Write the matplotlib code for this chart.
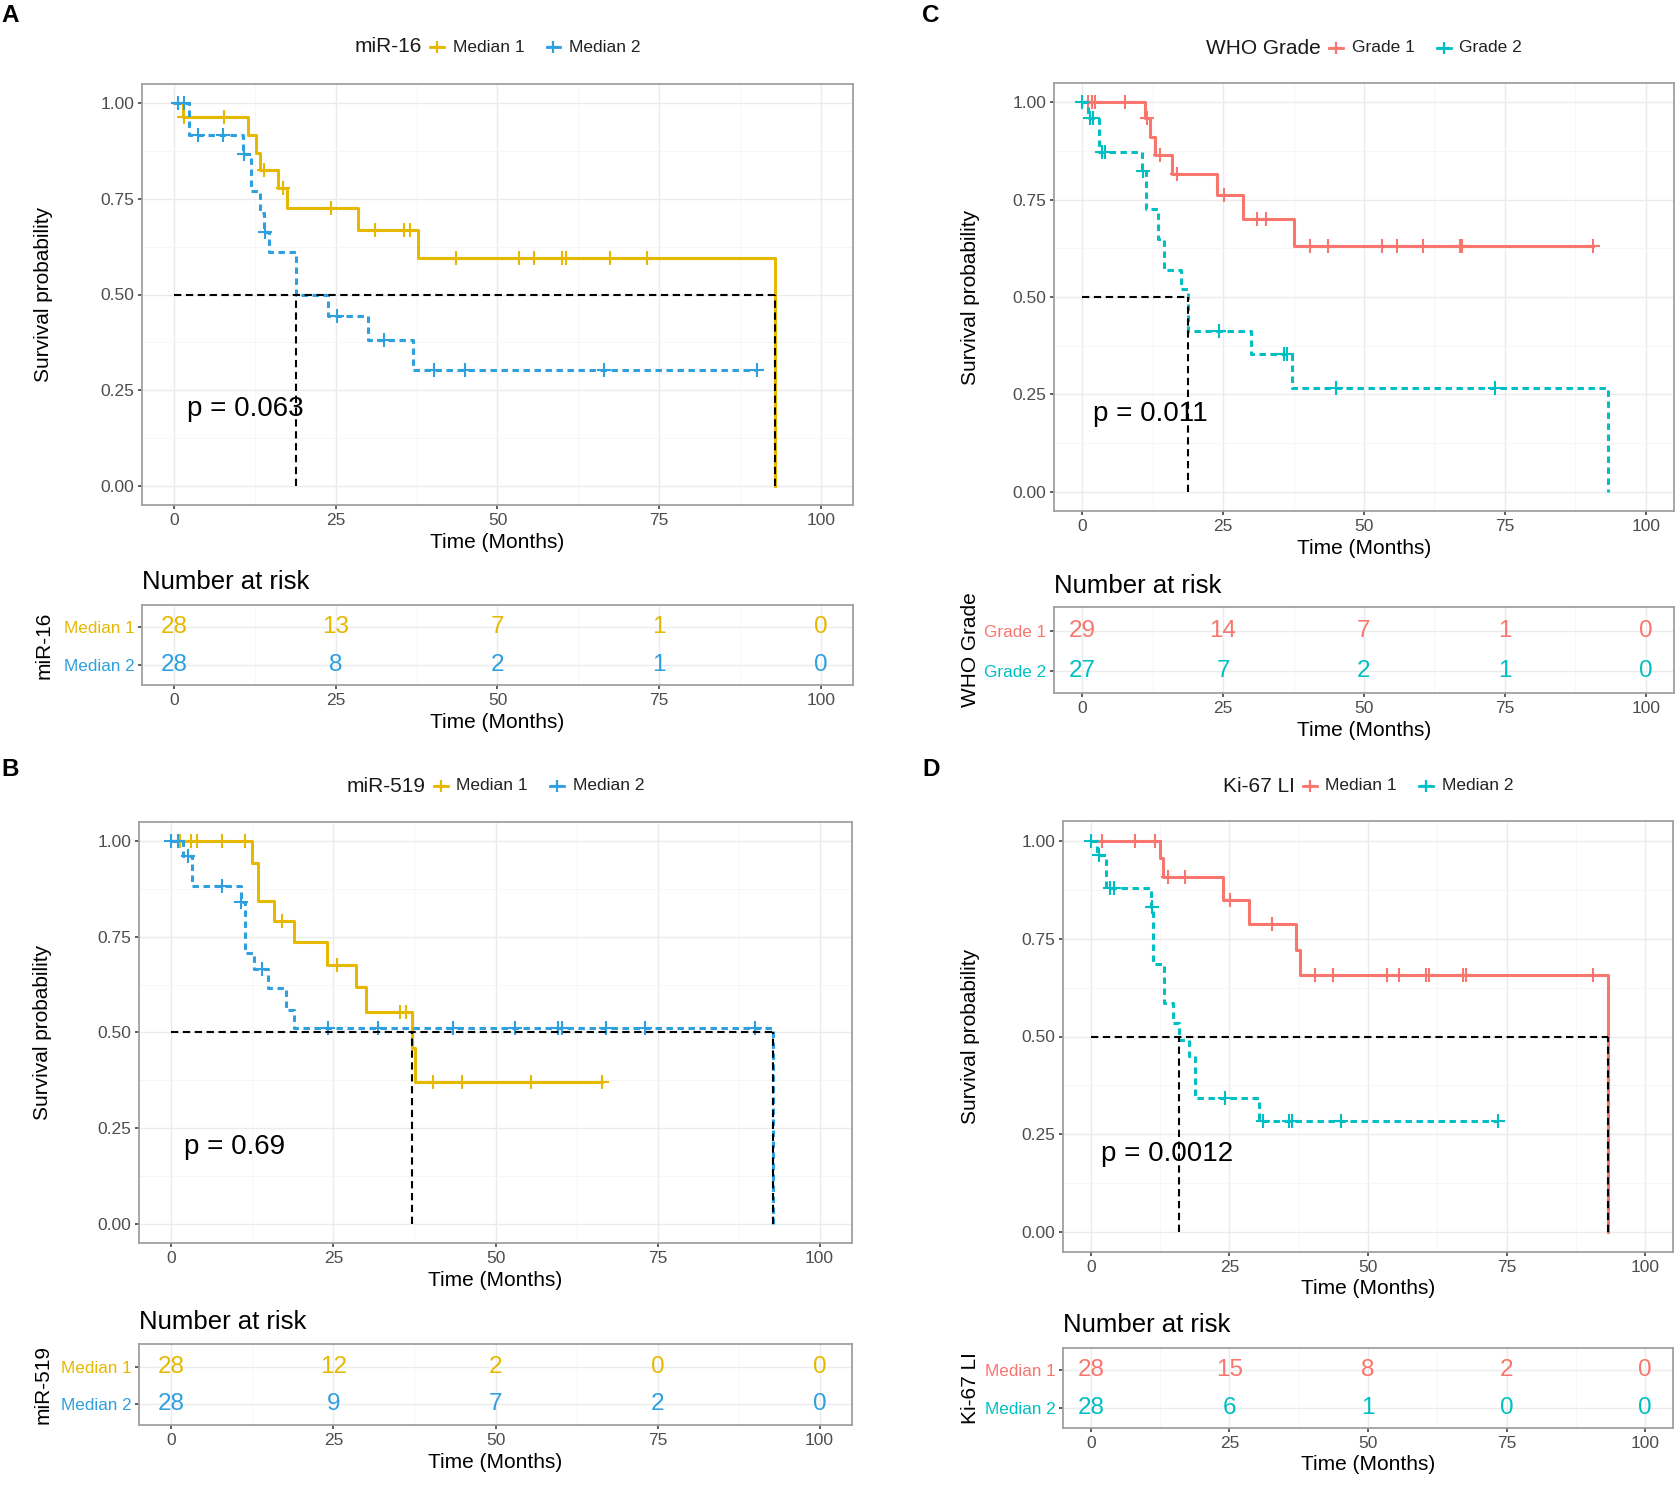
import numpy as np
import matplotlib
matplotlib.use('Agg')
import matplotlib.pyplot as plt
from matplotlib.lines import Line2D
from matplotlib.offsetbox import AnchoredOffsetbox, HPacker, TextArea, DrawingArea

plt.rcParams['font.family'] = ['Liberation Sans', 'DejaVu Sans']

YEL, BLU = '#E7B800', '#2E9FDF'
RED, TEAL = '#F8766D', '#00BFC4'

# ---- data (months, survival after each event, censor times)
# A: miR-16
mir16_m1_t = [1.3, 11.4, 12.7, 13.2, 16.1, 17.4, 28.4, 37.7, 92.9]
mir16_m1_s = [0.964, 0.916, 0.870, 0.826, 0.778, 0.727, 0.669, 0.595, 0.0]
mir16_m1_c = [1.5, 7.7, 13.8, 16.8, 24.3, 31.1, 35.6, 36.5, 43.6, 53.3, 55.7, 60.0, 60.6, 67.4, 73.1]
mir16_m2_t = [2.3, 10.7, 11.9, 13.2, 13.8, 14.6, 18.9, 23.7, 29.9, 37.0]
mir16_m2_s = [0.916, 0.868, 0.770, 0.714, 0.663, 0.612, 0.500, 0.443, 0.380, 0.304]
mir16_m2_c = [0.5, 1.5, 3.7, 7.5, 10.8, 14.0, 25.2, 32.4, 40.2, 45.0, 66.4, 90.1]
mir16_risk_m1 = [28, 13, 7, 1, 0]
mir16_risk_m2 = [28, 8, 2, 1, 0]

# B: miR-519
mir519_m1_t = [12.4, 13.4, 15.8, 18.9, 24.0, 28.5, 30.0, 37.1, 37.6]
mir519_m1_s = [0.944, 0.843, 0.791, 0.736, 0.677, 0.618, 0.553, 0.460, 0.371]
mir519_m1_c = [1.4, 3.0, 4.0, 7.8, 11.4, 17.0, 25.5, 35.2, 36.2, 40.3, 44.9, 55.5, 66.5]
mir519_m2_t = [1.8, 3.1, 10.7, 11.3, 12.7, 14.9, 17.7, 18.9, 92.8]
mir519_m2_s = [0.962, 0.884, 0.841, 0.709, 0.665, 0.615, 0.560, 0.512, 0.0]
mir519_m2_c = [0.0, 1.0, 2.5, 7.8, 10.8, 13.9, 24.1, 31.8, 43.5, 53.0, 59.7, 60.2, 67.1, 73.1, 90.1]
mir519_risk_m1 = [28, 12, 2, 0, 0]
mir519_risk_m2 = [28, 9, 7, 2, 0]

# C: WHO grade
who_g1_t = [11.2, 12.1, 12.9, 15.9, 24.0, 28.5, 37.5]
who_g1_s = [0.959, 0.911, 0.866, 0.815, 0.761, 0.701, 0.632]
who_g1_c = [1.0, 1.7, 2.3, 7.6, 11.5, 13.8, 16.8, 25.2, 31.0, 32.6, 40.5, 43.6, 53.2, 55.8, 60.4, 67.0, 67.3, 90.7]
who_g2_t = [1.0, 2.9, 10.7, 11.3, 13.4, 14.6, 17.6, 18.7, 30.0, 37.3, 93.3]
who_g2_s = [0.961, 0.873, 0.825, 0.725, 0.650, 0.569, 0.520, 0.412, 0.353, 0.265, 0.0]
who_g2_c = [0.0, 1.3, 2.0, 3.5, 4.1, 10.8, 24.3, 35.8, 36.4, 45.0, 73.2]
who_risk_g1 = [29, 14, 7, 1, 0]
who_risk_g2 = [27, 7, 2, 1, 0]

# D: Ki-67 LI
ki67_m1_t = [12.5, 13.0, 23.9, 28.6, 37.1, 37.8, 93.3]
ki67_m1_s = [0.956, 0.906, 0.848, 0.788, 0.720, 0.656, 0.0]
ki67_m1_c = [2.1, 8.0, 11.6, 13.9, 17.0, 25.1, 32.7, 40.4, 43.7, 53.5, 55.6, 60.5, 61.0, 67.1, 67.7, 90.6]
ki67_m2_t = [1.1, 2.7, 10.8, 11.3, 13.3, 14.9, 16.0, 17.7, 18.8, 30.3]
ki67_m2_s = [0.962, 0.878, 0.830, 0.684, 0.585, 0.535, 0.490, 0.450, 0.343, 0.284]
ki67_m2_c = [0.0, 1.5, 3.5, 4.2, 11.0, 24.3, 31.0, 35.7, 36.3, 45.2, 73.4]
ki67_risk_m1 = [28, 15, 8, 2, 0]
ki67_risk_m2 = [28, 6, 1, 0, 0]

risk_times = [0, 25, 50, 75, 100]
x_ticks = [0, 25, 50, 75, 100]
y_ticks = [0, 0.25, 0.5, 0.75, 1.0]
y_ticklabels = ['0.00', '0.25', '0.50', '0.75', '1.00']

W, H = 1680, 1488
fig = plt.figure(figsize=(W / 100, H / 100), dpi=100)


def px_axes(box):
    x0, y0, x1, y1 = box
    return fig.add_axes([x0 / W, 1 - y1 / H, (x1 - x0) / W, (y1 - y0) / H])


def km_steps(times, surv, cens):
    end = max(times[-1], max(cens))
    t = np.r_[0.0, times, end]
    s = np.r_[1.0, surv, surv[-1]]
    return t, s


def median_time(times, surv):
    surv = np.asarray(surv)
    hit = np.nonzero(surv <= 0.5)[0]
    return times[hit[0]] if len(hit) else None


def base_style(ax):
    ax.set_xlim(-5, 105)
    ax.set_xticks(x_ticks)
    ax.set_xticks([12.5, 37.5, 62.5, 87.5], minor=True)
    ax.grid(which='major', color='#EBEBEB', lw=1.0)
    ax.grid(which='minor', color='#F5F5F5', lw=0.6)
    ax.set_axisbelow(True)
    ax.tick_params(which='major', length=3, width=1.1, color='#333333',
                   labelsize=12.5, labelcolor='#4D4D4D', pad=2.5)
    ax.tick_params(which='minor', length=0)
    for sp in ax.spines.values():
        sp.set_color('#A0A0A0')
        sp.set_linewidth(1.3)


def header(ax, title, labels, colors, y_px):
    items = [TextArea(title, textprops=dict(fontsize=15, color='#1A1A1A'))]
    for i, (lab, col) in enumerate(zip(labels, colors)):
        da = DrawingArea(16, 12, 0, 0)
        da.add_artist(Line2D([3, 13], [6, 6], color=col, lw=2.0))
        da.add_artist(Line2D([8], [6], marker='+', ms=9, mew=1.6, color=col))
        items.append(da)
        items.append(TextArea(lab, textprops=dict(fontsize=12.5, color='#222222')))
        if i == 0:
            items.append(DrawingArea(7, 12, 0, 0))
    box = HPacker(children=items, align='center', pad=0, sep=3)
    pos = ax.get_position()
    anch = AnchoredOffsetbox(loc='center', child=box, pad=0, borderpad=0, frameon=False,
                             bbox_to_anchor=((pos.x0 + pos.x1) / 2, 1 - y_px / H),
                             bbox_transform=fig.transFigure)
    fig.add_artist(anch)


def draw_panel(p):
    x0, y0, x1, y1 = p['km']
    ax = px_axes(p['km'])
    base_style(ax)
    ax.set_ylim(-0.05, 1.05)
    ax.set_yticks(y_ticks)
    ax.set_yticklabels(y_ticklabels)
    ax.set_yticks([0.125, 0.375, 0.625, 0.875], minor=True)

    medians = []
    for (t, s, c), col, ls in zip(p['curves'], p['colors'], ['-', (0, (2.1, 1.5))]):
        ts, ss = km_steps(t, s, c)
        ax.step(ts, ss, where='post', color=col, lw=2.2, ls=ls, zorder=2)
        cy = ss[np.searchsorted(ts, c, side='right') - 1]
        ax.plot(c, cy, ls='none', marker='+', ms=10, mew=1.5, color=col, zorder=2)
        m = median_time(t, s)
        if m is not None:
            medians.append(m)
    if medians:
        ax.hlines(0.5, 0, max(medians), color='black', lw=1.5, ls=(0, (3.5, 2.2)), zorder=3)
        ax.vlines(medians, 0, 0.5, color='black', lw=1.5, ls=(0, (3.5, 2.2)), zorder=3)
    ax.text(1.9, 0.2, p['pval'], fontsize=20, color='black', ha='left', va='center')

    ax.set_xlabel('Time (Months)', fontsize=15, color='black')
    ax.xaxis.set_label_coords(0.5, -37 / (y1 - y0))
    ax.xaxis.label.set_va('center')
    ax.set_ylabel('Survival probability', fontsize=15, color='black')
    ax.yaxis.set_label_coords((p['ylab_x'] - x0) / (x1 - x0), 0.5)
    ax.yaxis.label.set_va('center')

    header(ax, p['title'], p['labels'], p['colors'], p['head_y'])
    fig.text(p['letter'][0] / W, 1 - p['letter'][1] / H, p['letter_txt'],
             fontsize=17.5, fontweight='bold', ha='left', va='center')

    # number at risk table
    rx0, ry0, rx1, ry1 = p['risk']
    rax = px_axes(p['risk'])
    base_style(rax)
    rax.set_ylim(0.45, 2.6)
    rax.set_yticks([1, 2])
    rax.set_yticklabels(p['labels'][::-1])
    rax.tick_params(axis='y', labelsize=12.3)
    for lab, col in zip(rax.get_yticklabels(), p['colors'][::-1]):
        lab.set_color(col)
    for row, counts, col in zip([2, 1], p['risk_counts'], p['colors']):
        for t, n in zip(risk_times, counts):
            rax.text(t, row, str(n), fontsize=17.5, color=col, ha='center', va='center')
    rax.set_xlabel('Time (Months)', fontsize=15, color='black')
    rax.xaxis.set_label_coords(0.5, -37 / (ry1 - ry0))
    rax.xaxis.label.set_va('center')
    rax.set_ylabel(p['title'], fontsize=15, color='black')
    rax.yaxis.set_label_coords((p['ylab_x'] - rx0) / (rx1 - rx0), 0.5)
    rax.yaxis.label.set_va('center')
    fig.text(rx0 / W, 1 - p['nar_y'] / H, 'Number at risk', fontsize=18.5,
             color='black', ha='left', va='center')


panels = [
    dict(letter_txt='A', letter=(1, 16), km=(142, 84, 853, 505), risk=(142, 605, 853, 685),
         head_y=47, nar_y=582, ylab_x=44, title='miR-16', labels=['Median 1', 'Median 2'],
         colors=[YEL, BLU], pval='p = 0.063',
         curves=[(mir16_m1_t, mir16_m1_s, mir16_m1_c), (mir16_m2_t, mir16_m2_s, mir16_m2_c)],
         risk_counts=[mir16_risk_m1, mir16_risk_m2]),
    dict(letter_txt='C', letter=(922, 16), km=(1054, 83, 1674, 511), risk=(1054, 607, 1674, 693),
         head_y=48, nar_y=586, ylab_x=970, title='WHO Grade', labels=['Grade 1', 'Grade 2'],
         colors=[RED, TEAL], pval='p = 0.011',
         curves=[(who_g1_t, who_g1_s, who_g1_c), (who_g2_t, who_g2_s, who_g2_c)],
         risk_counts=[who_risk_g1, who_risk_g2]),
    dict(letter_txt='B', letter=(1, 769), km=(139, 822, 852, 1243), risk=(139, 1344, 852, 1425),
         head_y=786, nar_y=1322, ylab_x=43, title='miR-519', labels=['Median 1', 'Median 2'],
         colors=[YEL, BLU], pval='p = 0.69',
         curves=[(mir519_m1_t, mir519_m1_s, mir519_m1_c), (mir519_m2_t, mir519_m2_s, mir519_m2_c)],
         risk_counts=[mir519_risk_m1, mir519_risk_m2]),
    dict(letter_txt='D', letter=(922, 770), km=(1063, 821, 1673, 1252), risk=(1063, 1348, 1673, 1428),
         head_y=786, nar_y=1325, ylab_x=970, title='Ki-67 LI', labels=['Median 1', 'Median 2'],
         colors=[RED, TEAL], pval='p = 0.0012',
         curves=[(ki67_m1_t, ki67_m1_s, ki67_m1_c), (ki67_m2_t, ki67_m2_s, ki67_m2_c)],
         risk_counts=[ki67_risk_m1, ki67_risk_m2]),
]

for p in panels:
    draw_panel(p)

fig.savefig('out.png', dpi=100, facecolor='white')
